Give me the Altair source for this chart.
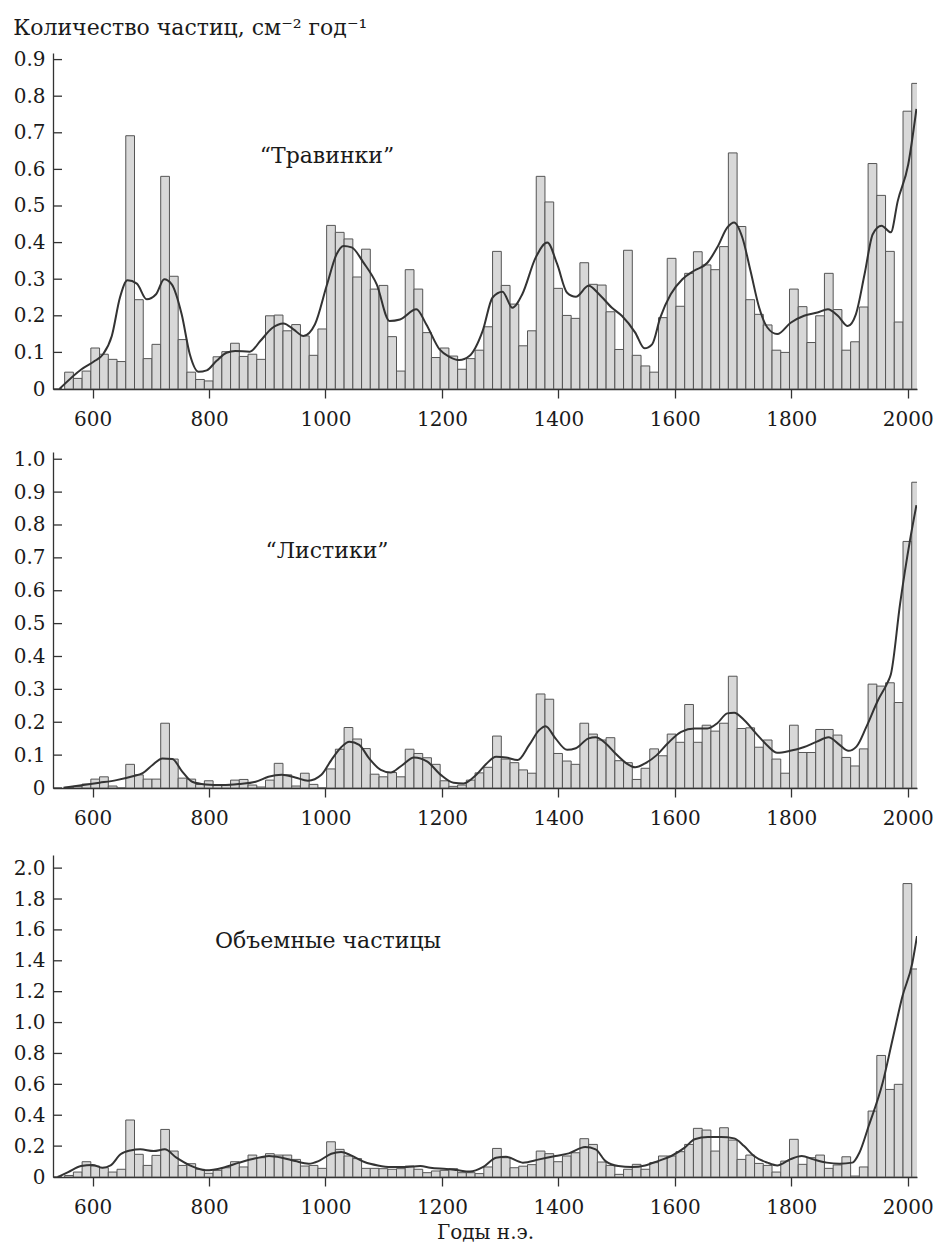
import altair as alt
import pandas as pd

FONT = "DejaVu Serif"

# 15-year sample bins (start years)
BIN_START = [552, 567, 582, 597, 612, 627, 642, 657, 672, 687,
             702, 717, 732, 747, 762, 777, 792, 807, 822, 837,
             852, 867, 882, 897, 912, 927, 942, 957, 972, 987,
             1002, 1017, 1032, 1047, 1062, 1077, 1092, 1107, 1122, 1137,
             1152, 1167, 1182, 1197, 1212, 1227, 1242, 1257, 1272, 1287,
             1302, 1317, 1332, 1347, 1362, 1377, 1392, 1407, 1422, 1437,
             1452, 1467, 1482, 1497, 1512, 1527, 1542, 1557, 1572, 1587,
             1602, 1617, 1632, 1647, 1662, 1677, 1692, 1707, 1722, 1737,
             1752, 1767, 1782, 1797, 1812, 1827, 1842, 1857, 1872, 1887,
             1902, 1917, 1932, 1947, 1962, 1977, 1992, 2007]

# "Травинки"
GRASS = [0.046, 0.029, 0.049, 0.112, 0.095, 0.081, 0.075, 0.692, 0.244, 0.083,
         0.122, 0.581, 0.308, 0.135, 0.046, 0.026, 0.022, 0.088, 0.102, 0.125,
         0.089, 0.095, 0.081, 0.200, 0.202, 0.159, 0.176, 0.145, 0.092, 0.164,
         0.447, 0.428, 0.410, 0.306, 0.382, 0.273, 0.283, 0.143, 0.049, 0.326,
         0.273, 0.154, 0.086, 0.112, 0.090, 0.054, 0.083, 0.106, 0.170, 0.376,
         0.283, 0.232, 0.118, 0.159, 0.581, 0.511, 0.275, 0.201, 0.193, 0.345,
         0.286, 0.284, 0.211, 0.108, 0.379, 0.092, 0.063, 0.046, 0.195, 0.357,
         0.226, 0.316, 0.375, 0.339, 0.326, 0.389, 0.645, 0.444, 0.244, 0.204,
         0.175, 0.106, 0.100, 0.273, 0.225, 0.127, 0.200, 0.316, 0.217, 0.106,
         0.129, 0.224, 0.616, 0.529, 0.376, 0.183, 0.759, 0.835]

# "Листики"
LEAF = [0.002, 0.005, 0.012, 0.027, 0.034, 0.006, 0.000, 0.072, 0.040, 0.027,
        0.027, 0.197, 0.088, 0.030, 0.027, 0.011, 0.022, 0.009, 0.009, 0.024,
        0.026, 0.009, 0.003, 0.024, 0.075, 0.040, 0.006, 0.045, 0.011, 0.000,
        0.058, 0.118, 0.184, 0.149, 0.120, 0.042, 0.034, 0.047, 0.034, 0.118,
        0.105, 0.092, 0.072, 0.022, 0.005, 0.009, 0.024, 0.046, 0.063, 0.158,
        0.088, 0.077, 0.055, 0.045, 0.286, 0.270, 0.105, 0.082, 0.072, 0.197,
        0.164, 0.146, 0.153, 0.083, 0.077, 0.026, 0.060, 0.119, 0.098, 0.164,
        0.139, 0.254, 0.139, 0.191, 0.173, 0.197, 0.340, 0.181, 0.183, 0.124,
        0.146, 0.088, 0.045, 0.191, 0.108, 0.108, 0.178, 0.178, 0.161, 0.093,
        0.067, 0.119, 0.316, 0.310, 0.320, 0.260, 0.750, 0.930]

# Объемные частицы
BULK = [0.010, 0.032, 0.099, 0.071, 0.060, 0.032, 0.050, 0.369, 0.147, 0.075,
        0.140, 0.308, 0.168, 0.075, 0.086, 0.050, 0.024, 0.043, 0.060, 0.099,
        0.065, 0.142, 0.125, 0.151, 0.142, 0.142, 0.114, 0.071, 0.075, 0.056,
        0.228, 0.179, 0.136, 0.119, 0.056, 0.056, 0.054, 0.050, 0.054, 0.071,
        0.050, 0.028, 0.039, 0.043, 0.054, 0.028, 0.028, 0.022, 0.065, 0.185,
        0.125, 0.060, 0.070, 0.080, 0.168, 0.151, 0.099, 0.136, 0.157, 0.248,
        0.211, 0.097, 0.075, 0.017, 0.050, 0.082, 0.050, 0.093, 0.136, 0.136,
        0.164, 0.211, 0.315, 0.304, 0.168, 0.319, 0.239, 0.114, 0.142, 0.088,
        0.075, 0.032, 0.103, 0.244, 0.082, 0.125, 0.142, 0.056, 0.078, 0.131,
        0.006, 0.065, 0.427, 0.787, 0.567, 0.600, 1.900, 1.347]

# smoothed curves
GRASS_LINE_X = [543, 581, 604, 618, 633, 647, 660, 676, 693, 709, 723, 736, 753, 767, 782, 796,
                813, 830, 845, 870, 888, 908, 928, 945, 962, 982, 1002, 1019, 1031, 1045, 1065,
                1088, 1110, 1128, 1156, 1173, 1196, 1213, 1230, 1247, 1270, 1287, 1304, 1321,
                1338, 1361, 1381, 1398, 1415, 1430, 1452, 1470, 1492, 1509, 1532, 1548, 1561,
                1575, 1593, 1613, 1633, 1656, 1673, 1690, 1702, 1716, 1730, 1745, 1759, 1776,
                1799, 1822, 1845, 1863, 1880, 1897, 1911, 1926, 1940, 1955, 1971, 1983, 2001, 2015]
GRASS_LINE_Y = [0.0, 0.054, 0.077, 0.095, 0.145, 0.25, 0.297, 0.288, 0.245, 0.259, 0.300, 0.286,
                0.204, 0.095, 0.047, 0.051, 0.077, 0.099, 0.104, 0.102, 0.131, 0.166, 0.179,
                0.163, 0.145, 0.177, 0.282, 0.368, 0.391, 0.387, 0.346, 0.286, 0.186, 0.190,
                0.218, 0.177, 0.108, 0.088, 0.079, 0.090, 0.159, 0.250, 0.266, 0.222, 0.259,
                0.359, 0.400, 0.341, 0.263, 0.252, 0.282, 0.259, 0.222, 0.200, 0.154, 0.111,
                0.122, 0.195, 0.259, 0.300, 0.323, 0.345, 0.387, 0.441, 0.455, 0.414, 0.323,
                0.222, 0.168, 0.150, 0.181, 0.200, 0.209, 0.218, 0.200, 0.172, 0.204, 0.314,
                0.423, 0.446, 0.428, 0.514, 0.614, 0.765]

LEAF_LINE_X = [550, 584, 612, 641, 669, 686, 703, 720, 737, 754, 771, 794, 823, 851, 880, 902,
               925, 948, 970, 993, 1010, 1027, 1041, 1058, 1075, 1095, 1112, 1130, 1152, 1175,
               1198, 1220, 1237, 1259, 1276, 1293, 1310, 1330, 1350, 1367, 1378, 1395, 1415,
               1430, 1452, 1464, 1481, 1498, 1517, 1532, 1549, 1569, 1588, 1611, 1634, 1656,
               1673, 1690, 1702, 1719, 1742, 1758, 1776, 1798, 1821, 1844, 1864, 1883, 1898,
               1912, 1929, 1949, 1966, 1971, 1987, 2004, 2015]
LEAF_LINE_Y = [0.001, 0.009, 0.016, 0.024, 0.036, 0.045, 0.070, 0.090, 0.088, 0.050, 0.019,
               0.011, 0.009, 0.012, 0.019, 0.034, 0.040, 0.032, 0.022, 0.040, 0.085, 0.124,
               0.141, 0.131, 0.090, 0.055, 0.047, 0.067, 0.093, 0.080, 0.040, 0.016, 0.014,
               0.040, 0.073, 0.095, 0.093, 0.085, 0.131, 0.176, 0.188, 0.151, 0.116, 0.121,
               0.151, 0.154, 0.136, 0.105, 0.075, 0.063, 0.075, 0.100, 0.136, 0.171, 0.181,
               0.181, 0.197, 0.227, 0.229, 0.207, 0.161, 0.131, 0.107, 0.113, 0.124, 0.141,
               0.154, 0.131, 0.113, 0.126, 0.186, 0.267, 0.323, 0.345, 0.561, 0.754, 0.860]

BULK_LINE_X = [540, 558, 580, 600, 617, 631, 648, 665, 682, 705, 724, 744, 767, 795, 824, 852,
               880, 903, 925, 948, 971, 988, 1010, 1027, 1044, 1067, 1090, 1112, 1140, 1163,
               1180, 1208, 1225, 1248, 1271, 1293, 1310, 1339, 1367, 1395, 1418, 1446, 1464,
               1481, 1503, 1526, 1549, 1571, 1594, 1617, 1634, 1657, 1679, 1702, 1719, 1736,
               1759, 1776, 1798, 1818, 1838, 1861, 1883, 1905, 1917, 1933, 1957, 1974, 1991,
               2008, 2016]
BULK_LINE_Y = [0.0, 0.032, 0.071, 0.078, 0.060, 0.075, 0.147, 0.172, 0.179, 0.168, 0.179,
               0.125, 0.075, 0.043, 0.060, 0.093, 0.121, 0.136, 0.125, 0.103, 0.086, 0.103,
               0.151, 0.162, 0.140, 0.097, 0.075, 0.065, 0.065, 0.071, 0.060, 0.052, 0.045,
               0.035, 0.065, 0.125, 0.131, 0.093, 0.114, 0.136, 0.153, 0.194, 0.179, 0.103,
               0.071, 0.065, 0.075, 0.103, 0.136, 0.190, 0.244, 0.259, 0.259, 0.250, 0.200,
               0.136, 0.093, 0.075, 0.114, 0.136, 0.114, 0.093, 0.086, 0.093, 0.157, 0.330,
               0.610, 0.890, 1.170, 1.386, 1.560]

X_TICKS = [600, 800, 1000, 1200, 1400, 1600, 1800, 2000]
Y_TICKS_1 = [0, 0.1, 0.2, 0.3, 0.4, 0.5, 0.6, 0.7, 0.8, 0.9]
Y_TICKS_2 = [0, 0.1, 0.2, 0.3, 0.4, 0.5, 0.6, 0.7, 0.8, 0.9, 1.0]
Y_TICKS_3 = [0, 0.2, 0.4, 0.6, 0.8, 1.0, 1.2, 1.4, 1.6, 1.8, 2.0]

LABELS = ["\u201cТравинки\u201d", "\u201cЛистики\u201d", "Объемные частицы"]
TITLE = "Количество частиц,  см\u207b\u00b2 год\u207b\u00b9"
X_TITLE = "Годы н.э."

X_DOMAIN = [532, 2016]
LABEL_EXPR = "datum.value == 0 ? '0' : format(datum.value, '.1f')"
INK = "#1a1a1a"


def panel(values, lx, ly, ticks, ymax, width, height, label, lab_x, lab_y, xtitle):
    bars_df = pd.DataFrame({"start": BIN_START, "value": values})
    bars_df["end"] = bars_df["start"] + 15
    bars_df["base"] = 0.0
    line_df = pd.DataFrame({"start": lx, "value": ly})
    tick_df = pd.DataFrame({"value": ticks})
    txt_df = pd.DataFrame({"t": [label]})

    xs = alt.Scale(domain=X_DOMAIN, nice=False, zero=False)
    ys = alt.Scale(domain=[0, ymax], nice=False, zero=True)

    xaxis = alt.Axis(values=X_TICKS, format="d", tickSize=9, labelPadding=11,
                     grid=False, labelFlush=False, labelOverlap=False,
                     labelFont=FONT, labelFontSize=20, labelColor=INK,
                     title=xtitle if xtitle else "", titlePadding=5,
                     titleFont=FONT, titleFontSize=20, titleFontWeight="normal",
                     titleColor=INK,
                     domainColor="#333333", tickColor="#333333",
                     domainWidth=1.3, tickWidth=1.3)
    yaxis = alt.Axis(values=ticks, ticks=False, labelPadding=8, grid=False,
                     title="", labelFlush=False, labelOverlap=False,
                     labelFont=FONT, labelFontSize=20, labelColor=INK,
                     domainColor="#333333", domainWidth=1.3,
                     labelExpr=LABEL_EXPR)

    bars = alt.Chart(bars_df).mark_bar(
        fill="#d8d8d8", stroke="#555555", strokeWidth=1, clip=True
    ).encode(
        x=alt.X("start:Q", scale=xs, axis=xaxis),
        x2="end:Q",
        y=alt.Y("value:Q", scale=ys, axis=yaxis),
        y2="base:Q",
    )
    line = alt.Chart(line_df).mark_line(
        color="#333333", strokeWidth=2, interpolate="monotone", clip=True
    ).encode(
        x=alt.X("start:Q", scale=xs, axis=xaxis),
        y=alt.Y("value:Q", scale=ys, axis=yaxis),
    )
    yt = alt.Chart(tick_df).mark_rule(color="#333333", strokeWidth=1.3).encode(
        y=alt.Y("value:Q", scale=ys, axis=yaxis),
        x=alt.value(0),
        x2=alt.value(9),
    )
    txt = alt.Chart(txt_df).mark_text(
        font=FONT, fontSize=22, color=INK
    ).encode(text="t:N", x=alt.value(lab_x), y=alt.value(lab_y))
    return alt.layer(bars, line, yt, txt).properties(width=width, height=height)


p1 = panel(GRASS, GRASS_LINE_X, GRASS_LINE_Y, Y_TICKS_1, 0.918, 864, 336,
           LABELS[0], 274, 103, None)
p2 = panel(LEAF, LEAF_LINE_X, LEAF_LINE_Y, Y_TICKS_2, 1.022, 864, 336,
           LABELS[1], 274, 99, None)
p3 = panel(BULK, BULK_LINE_X, BULK_LINE_Y, Y_TICKS_3, 2.085, 864, 322,
           LABELS[2], 275, 86, X_TITLE).properties(
    title=alt.TitleParams(text=" ", fontSize=2, offset=5)
)

chart = alt.vconcat(p1, p2, p3, spacing=20).properties(
    title=alt.TitleParams(text=TITLE, anchor="start", frame="bounds", font=FONT,
                          fontSize=22, fontWeight="normal", color=INK, offset=4, dy=-6),
    padding={"left": 5, "top": 8, "right": 0, "bottom": 0},
).configure_view(strokeWidth=0)

chart.save("out.html", embed_options={"renderer": "svg", "actions": False})
